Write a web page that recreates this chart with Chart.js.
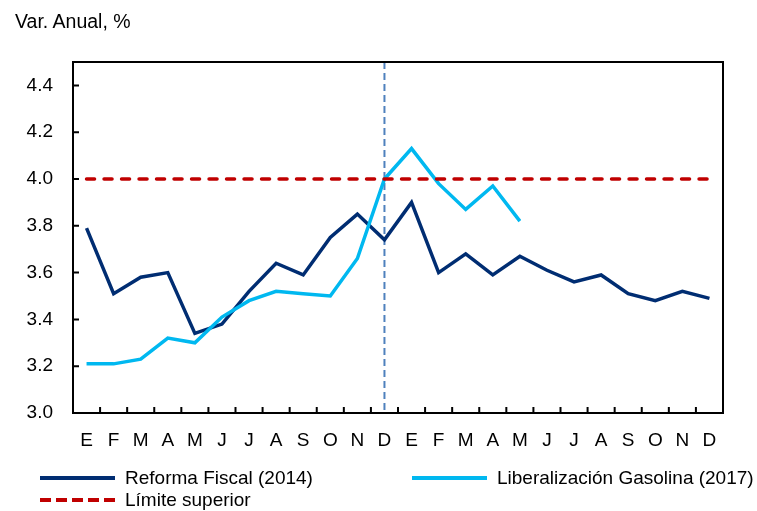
<!DOCTYPE html>
<html lang="es">
<head>
  <meta charset="UTF-8">
  <title>Var. Anual, %</title>
  <style>
    body { margin: 0; background: #fff; font-family: 'Liberation Sans', Arial, sans-serif; color: #000; }
    #wrap { position: relative; width: 757px; height: 511px; overflow: hidden; }
    #title { position: absolute; left: 15px; top: 10px; font-size: 19.5px; }
    .item { position: absolute; display: flex; align-items: center; font-size: 19px; line-height: 1; white-space: nowrap; }
    .swatch { display: inline-block; width: 75px; height: 4px; margin-right: 10px; }
  </style>
</head>
<body>
<div id="wrap">
  <canvas id="chart" width="757" height="511"></canvas>
  <div id="title">Var. Anual, %</div>
  <!-- leyenda -->
  <div class="item" style="left:40px; top:468px;"><span class="swatch" style="background:#002d72"></span>Reforma Fiscal (2014)</div>
  <div class="item" style="left:412px; top:468px;"><span class="swatch" style="background:#00b8f0"></span>Liberalización Gasolina (2017)</div>
  <div class="item" style="left:40px; top:490px;"><span class="swatch" style="background:repeating-linear-gradient(90deg,#c00000 0 11px,transparent 11px 16px)"></span>Límite superior</div>
</div>

<script src="https://cdn.jsdelivr.net/npm/chart.js@4.4.0/dist/chart.umd.min.js"></script>
<script>
  // Meses (dos años)
  const months = ["E","F","M","A","M","J","J","A","S","O","N","D","E","F","M","A","M","J","J","A","S","O","N","D"];

  // Series
  const reforma = [3.79, 3.51, 3.58, 3.60, 3.34, 3.38, 3.52, 3.64, 3.59, 3.75, 3.85, 3.74,
                   3.90, 3.60, 3.68, 3.59, 3.67, 3.61, 3.56, 3.59, 3.51, 3.48, 3.52, 3.49];
  const gasolina = [3.21, 3.21, 3.23, 3.32, 3.30, 3.41, 3.48, 3.52, 3.51, 3.50, 3.66, 4.00,
                    4.13, 3.98, 3.87, 3.97, 3.82];
  const limite = [4.0, 4.0, 4.0, 4.0, 4.0, 4.0, 4.0, 4.0, 4.0, 4.0, 4.0, 4.0,
                  4.0, 4.0, 4.0, 4.0, 4.0, 4.0, 4.0, 4.0, 4.0, 4.0, 4.0, 4.0];

  // Eje Y
  const yTicks = [3.0, 3.2, 3.4, 3.6, 3.8, 4.0, 4.2, 4.4];
  const yMin = 3.0, yMax = 4.5;

  // línea vertical punteada en diciembre
  const markerIndex = 11;

  const frame = {
    id: "frame",
    beforeDatasetsDraw(chart) {
      const { ctx, chartArea: a, scales } = chart;
      const x = scales.x.getPixelForValue(markerIndex);
      ctx.save();
      ctx.strokeStyle = "#4f81bd";
      ctx.lineWidth = 2;
      ctx.setLineDash([7, 4]);
      ctx.beginPath();
      ctx.moveTo(x, a.top);
      ctx.lineTo(x, a.bottom);
      ctx.stroke();
      ctx.restore();
    },
    afterDraw(chart) {
      const { ctx, chartArea: a, scales } = chart;
      ctx.save();
      ctx.strokeStyle = "#000";
      ctx.lineWidth = 2;
      ctx.strokeRect(a.left, a.top, a.right - a.left, a.bottom - a.top);
      // marcas hacia adentro
      ctx.beginPath();
      yTicks.forEach(v => {
        const y = scales.y.getPixelForValue(v);
        ctx.moveTo(a.left, y);
        ctx.lineTo(a.left + 6, y);
      });
      for (let i = 0; i < months.length - 1; i++) {
        const x = (scales.x.getPixelForValue(i) + scales.x.getPixelForValue(i + 1)) / 2;
        ctx.moveTo(x, a.bottom);
        ctx.lineTo(x, a.bottom - 6);
      }
      ctx.stroke();
      ctx.restore();
    }
  };

  new Chart(document.getElementById("chart"), {
    type: "line",
    data: {
      labels: months,
      datasets: [
        { label: "Límite superior", data: limite, borderColor: "#c00000", borderWidth: 3.5,
          borderDash: [8, 9.5], borderCapStyle: "round", pointRadius: 0, order: 0 },
        { label: "Liberalización Gasolina (2017)", data: gasolina, borderColor: "#00b8f0",
          borderWidth: 3.5, pointRadius: 0, order: 1 },
        { label: "Reforma Fiscal (2014)", data: reforma, borderColor: "#002d72",
          borderWidth: 3.5, pointRadius: 0, order: 2 }
      ]
    },
    options: {
      responsive: false,
      animation: false,
      layout: { padding: { left: 0, top: 62, right: 34, bottom: 0 } },
      plugins: { legend: { display: false }, tooltip: { enabled: false } },
      scales: {
        x: {
          offset: true,
          grid: { display: false, drawTicks: false },
          border: { color: "#000", width: 2 },
          ticks: { color: "#000", font: { family: "'Liberation Sans', Arial", size: 19 },
                   padding: 16, maxRotation: 0, autoSkip: false },
          afterFit(scale) { scale.height = 98; }
        },
        y: {
          min: yMin,
          max: yMax,
          grid: { display: false, drawTicks: false },
          border: { color: "#000", width: 2 },
          ticks: { color: "#000", font: { family: "'Liberation Sans', Arial", size: 19 },
                   padding: 20, callback: v => v.toFixed(1) },
          afterBuildTicks(scale) { scale.ticks = yTicks.map(v => ({ value: v })); },
          afterFit(scale) { scale.width = 73; }
        }
      }
    },
    plugins: [frame]
  });
</script>
</body>
</html>
